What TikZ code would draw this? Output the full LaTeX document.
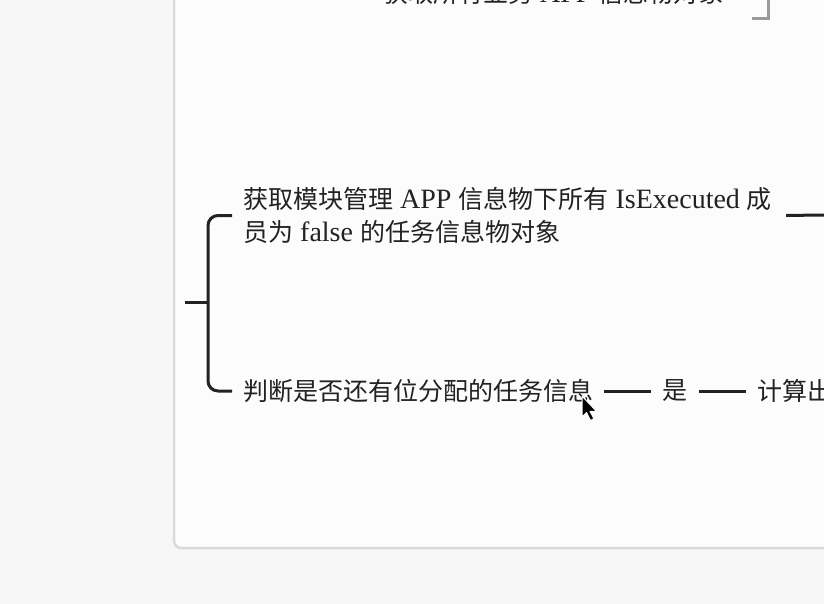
\documentclass[tikz,border=0pt]{standalone}
\usepackage{fontspec}
\setmainfont{Liberation Serif}[Scale=1.12]
\newfontfamily\cjk{Noto Sans CJK SC}
\usetikzlibrary{positioning}
\definecolor{inkline}{HTML}{222222}
\definecolor{pagebg}{HTML}{F7F7F7}
\definecolor{cardbg}{HTML}{FCFCFC}
\definecolor{cardedge}{HTML}{DADADA}
\definecolor{greyline}{HTML}{9A9A9A}
\tikzset{
	topicnode/.style={anchor=west, inner xsep=11pt, inner ysep=0pt, text=inkline, font=\fontsize{25}{33}\selectfont, align=left},
	branchline/.style={draw=inkline, line width=3pt, rounded corners=10pt}
}

\begin{document}
\begin{tikzpicture}[x=1pt, y=-1pt]
			\useasboundingbox (0,0) rectangle (824,604);
			\clip (0,0) rectangle (824,604);
			\fill[pagebg] (0,0) rectangle (824,604);
			\draw[cardedge, line width=2.5pt, fill=cardbg, rounded corners=7pt] (174,-20) rectangle (860,548);
			
			% topics
			\node[topicnode] (getall) at (372,-7) {{\cjk 获取所有业务} APP {\cjk 信息物对象}};
			\node[topicnode] (getmod) at (232,215.5) {{\cjk 获取模块管理} APP {\cjk 信息物下所有} IsExecuted {\cjk 成}\\{\cjk 员为} false {\cjk 的任务信息物对象}};
			\node[topicnode] (check) at (232,391) {\cjk 判断是否还有位分配的任务信息};
			\node[topicnode, right=47pt of check] (yes) {\cjk 是};
			\node[topicnode, right=47pt of yes] (calc) {\cjk 计算出};
			
			% connectors
			\coordinate (stub) at (185,302);
			\coordinate (fork) at (208,302);
			\coordinate (modend) at (824,215);
			\draw[branchline] (stub) -- (fork);
			\draw[branchline] (fork) |- (getmod.west);
			\draw[branchline] (fork) |- (check.west);
			\draw[branchline, shorten <=3pt] (getmod.east) -- (modend);
			\draw[branchline] (check) -- (yes);
			\draw[branchline] (yes) -- (calc);
			
			% selection corner
			\coordinate (selA) at (768,-5);
			\coordinate (selB) at (752,19);
			\draw[greyline, line width=3pt] (selA) |- (selB);
			
			% mouse pointer
			\draw[white, fill=black, line width=1pt, line join=round] (582,396) -- ++(0,21) -- ++(4.5,-4.5) -- ++(4,8) -- ++(3.5,-1.7) -- ++(-4,-7.5) -- ++(6.5,0) -- cycle;
		\end{tikzpicture}
\end{document}
